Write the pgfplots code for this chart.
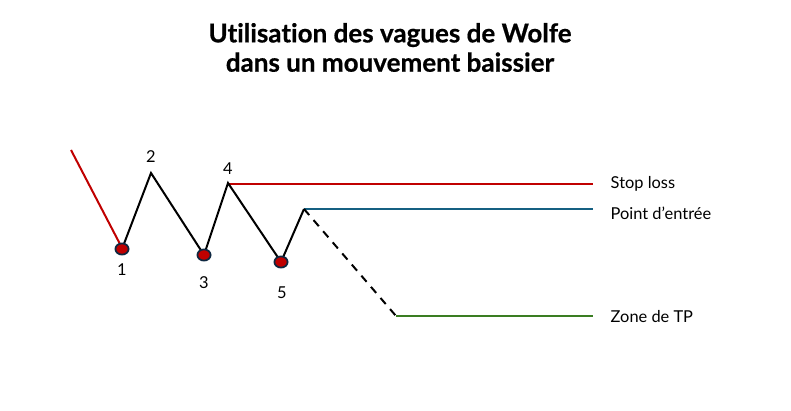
\documentclass[border=0pt]{standalone}
\usepackage{pgfplots}
\pgfplotsset{compat=1.18}
\usepackage{fontspec}
\setmainfont{Lato}[Ligatures=NoCommon]
\newfontfamily\titlefont{Lato}[Ligatures=NoCommon, BoldFeatures={FakeBold=0.6}]
\definecolor{wred}{HTML}{C00000}
\definecolor{wblue}{HTML}{156082}
\definecolor{wgreen}{HTML}{3A7D22}
\definecolor{wedge}{HTML}{0E2841}

\begin{document}
\begin{tikzpicture}
\begin{axis}[
    scale only axis,
    width=593.25pt, height=307.5pt,
    xmin=0, xmax=791, ymin=0, ymax=410,
    hide axis, clip=false,
]
% cadre invisible pour garder la taille de la page
\addplot[draw=none, forget plot] coordinates {(0,0) (791,410)};
% descente initiale
\addplot[wred, line width=1.5pt] coordinates {(71,260) (121,164)};
% niveaux
\addplot[wred, line width=1.5pt] coordinates {(228,226) (593,226)};
\addplot[wblue, line width=1.5pt] coordinates {(304,201) (593,201)};
\addplot[wgreen, line width=1.5pt] coordinates {(396,94) (593,94)};
% projection
\addplot[black, line width=1.5pt, dash pattern=on 6pt off 5pt] coordinates {(304,201) (396,94)};
% vagues
\addplot[black, line width=1.5pt, line join=miter] coordinates {
    (122,161) (151,237) (204,155) (228,227) (281,148) (304,201)
};
% points 1, 3, 5
\addplot[only marks, mark=*, mark size=4.2pt,
    mark options={fill=wred, draw=wedge, line width=1.3pt, xscale=1.18}]
    coordinates {(122,161) (204,155) (281,148)};

\node[font=\titlefont\bfseries\fontsize{19.5}{22}\selectfont, align=center] at (axis cs:390,362.5)
    {Utilisation des vagues de Wolfe\\dans un mouvement baissier};
\node[font=\fontsize{12.3}{14}\selectfont] at (axis cs:122,140) {1};
\node[font=\fontsize{12.3}{14}\selectfont] at (axis cs:151,253) {2};
\node[font=\fontsize{12.3}{14}\selectfont] at (axis cs:204,127) {3};
\node[font=\fontsize{12.3}{14}\selectfont] at (axis cs:228,241) {4};
\node[font=\fontsize{12.3}{14}\selectfont] at (axis cs:282,117) {5};
\node[font=\fontsize{12.3}{14}\selectfont, anchor=west] at (axis cs:606,226) {Stop loss};
\node[font=\fontsize{12.3}{14}\selectfont, anchor=west] at (axis cs:606,197) {Point d’entrée};
\node[font=\fontsize{12.3}{14}\selectfont, anchor=west] at (axis cs:606,93) {Zone de TP};
\end{axis}
\end{tikzpicture}
\end{document}
